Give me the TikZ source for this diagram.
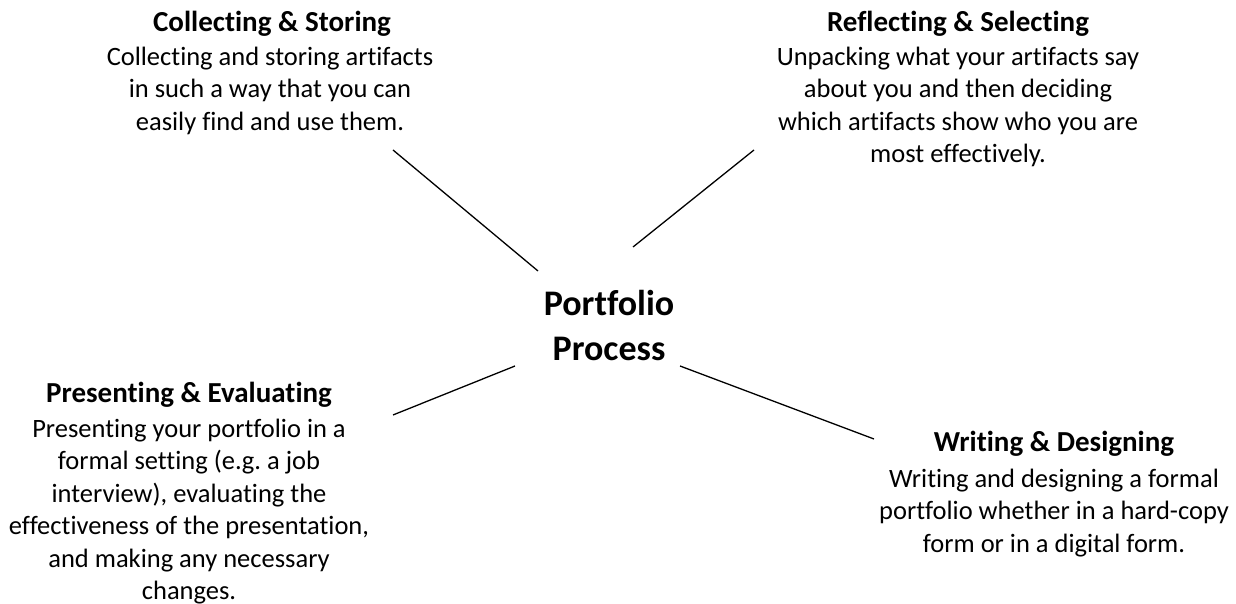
\documentclass[tikz,border=0pt]{standalone}
\usepackage{fontspec}
\setmainfont{Carlito}[Ligatures=NoCommon]
\frenchspacing
\tikzset{
  title/.style={font=\fontsize{29}{33}\selectfont\bfseries, inner sep=0pt, anchor=base},
  body/.style={font=\fontsize{26.5}{32.5}\selectfont, align=center, inner sep=0pt, anchor=north},
  spoke/.style={line width=1.3pt}
}
\begin{document}
\begin{tikzpicture}[x=1pt,y=1pt]
    \useasboundingbox (0,0) rectangle (1236,604);
    % Centre
    \node[font=\fontsize{36}{45}\selectfont\bfseries, align=center, inner sep=0pt, anchor=north] (hub) at (609,320.5) {\strut Portfolio\\Process};
    % Collecting & Storing
    \node[title] (collect) at (272,572) {Collecting \& Storing};
    \node[body] (collectTxt) at (270,561.75) {\strut Collecting and storing artifacts\\in such a way that you can\\easily find and use them.};
    % Reflecting & Selecting
    \node[title] (reflect) at (958,572) {Reflecting \& Selecting};
    \node[body] (reflectTxt) at (958,561.75) {\strut Unpacking what your artifacts say\\about you and then deciding\\which artifacts show who you are\\most effectively.};
    % Presenting & Evaluating
    \node[title] (present) at (189,201) {Presenting \& Evaluating};
    \node[body] (presentTxt) at (189,189.75) {\strut Presenting your portfolio in a\\formal setting (e.g. a job\\interview), evaluating the\\effectiveness of the presentation,\\and making any necessary\\changes.};
    % Writing & Designing
    \node[title] (write) at (1054,152) {Writing \& Designing};
    \node[body] (writeTxt) at (1054,139.75) {\strut Writing and designing a formal\\portfolio whether in a hard-copy\\form or in a digital form.};
    % Spoke ends
    \coordinate (collectEnd) at (393,454);
    \coordinate (collectHub) at (538,333);
    \coordinate (reflectEnd) at (754,454);
    \coordinate (reflectHub) at (633,357);
    \coordinate (presentEnd) at (393,189);
    \coordinate (presentHub) at (515,238);
    \coordinate (writeEnd) at (874,165);
    \coordinate (writeHub) at (680,238);
    % Spokes
    \draw[spoke] (collectHub) -- (collectEnd);
    \draw[spoke] (reflectHub) -- (reflectEnd);
    \draw[spoke] (presentHub) -- (presentEnd);
    \draw[spoke] (writeHub) -- (writeEnd);
\end{tikzpicture}
\end{document}
